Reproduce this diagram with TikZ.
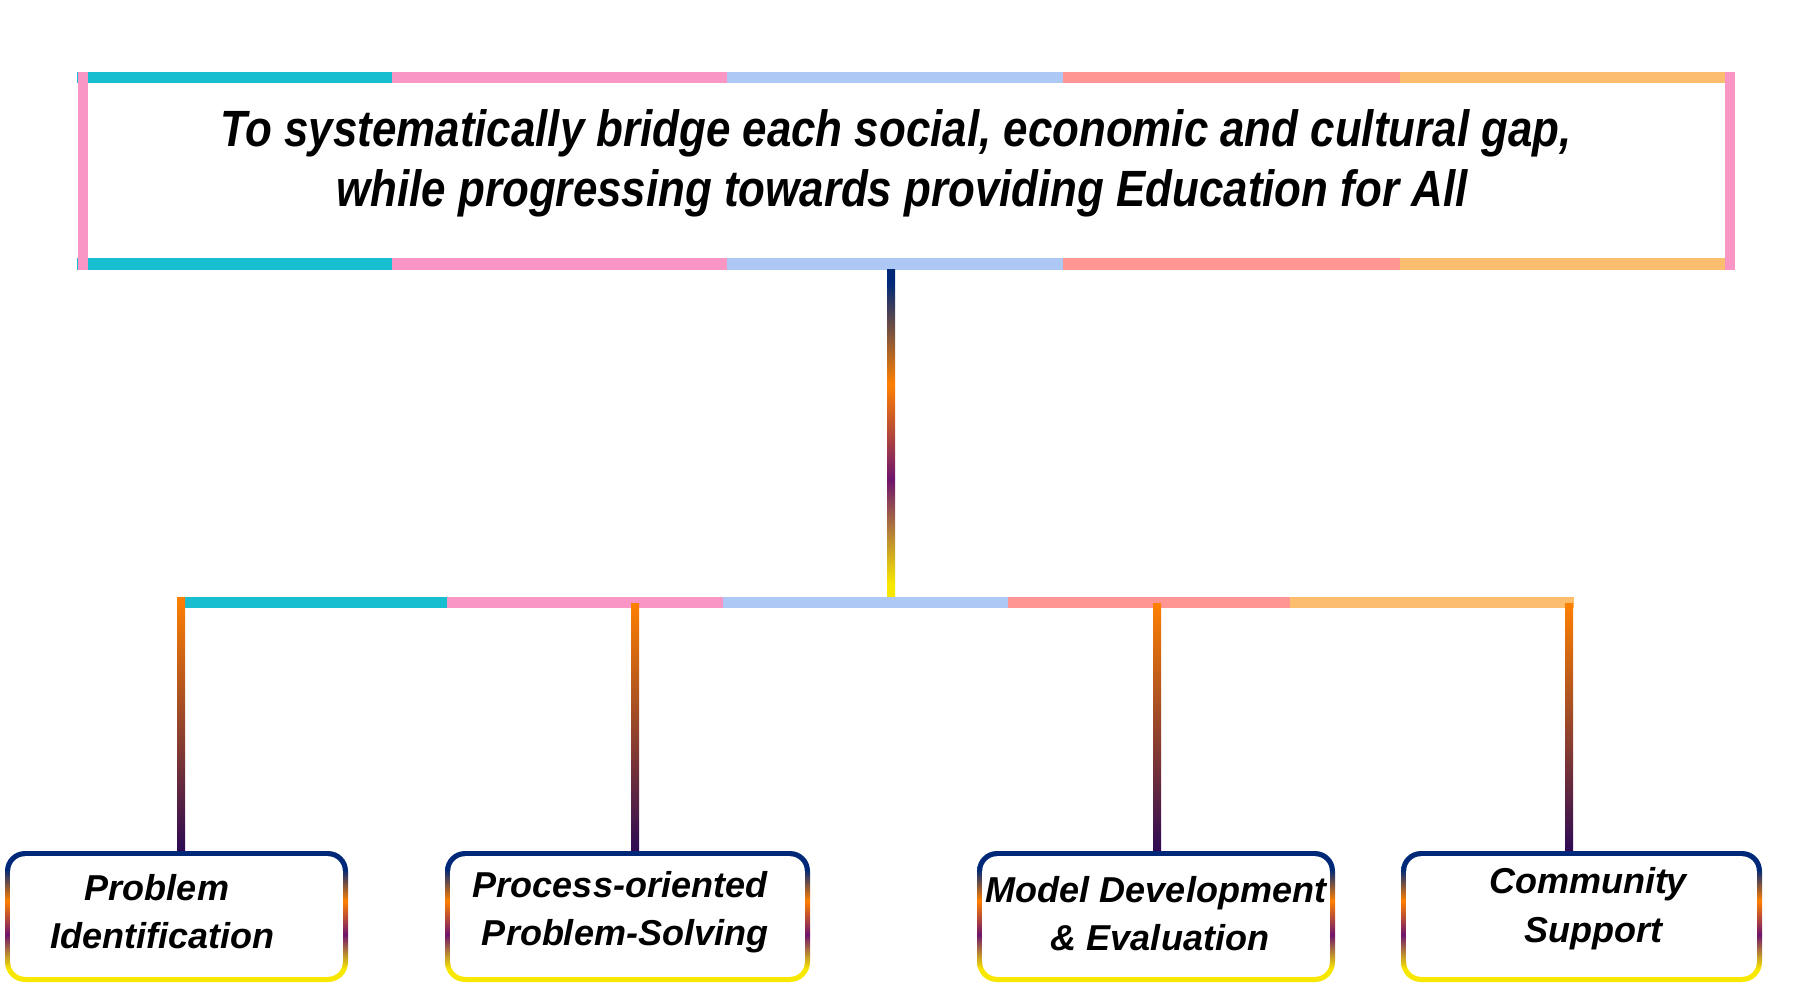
\documentclass[tikz,border=0pt]{standalone}
\usepackage{fontspec}
\setmainfont{Liberation Sans}
\newfontfamily\topfont[FakeStretch=0.86]{Liberation Sans}
\definecolor{scyan}{RGB}{23,190,207}
\definecolor{spink}{RGB}{250,150,198}
\definecolor{slav}{RGB}{173,200,245}
\definecolor{ssalm}{RGB}{255,150,148}
\definecolor{sora}{RGB}{253,189,110}
\definecolor{gnavy}{RGB}{0,40,120}
\definecolor{gora}{RGB}{255,128,0}
\definecolor{gpur}{RGB}{110,20,110}
\definecolor{gyel}{RGB}{248,232,0}
\definecolor{cdark}{RGB}{45,10,85}
\pgfdeclareverticalshading{maingrad}{100bp}{color(0bp)=(gyel); color(27bp)=(gyel); color(43bp)=(gpur); color(57.5bp)=(gora); color(73bp)=(gnavy); color(100bp)=(gnavy)}
\pgfdeclareverticalshading{boxgrad}{100bp}{color(0bp)=(gyel); color(30bp)=(gyel); color(43bp)=(gpur); color(56bp)=(gora); color(68bp)=(gnavy); color(100bp)=(gnavy)}
\begin{document}
\begin{tikzpicture}[x=1pt,y=-1pt,
  frame/.style={draw=none, inner sep=0pt, outer sep=0pt, minimum height=131pt},
  toptxt/.style={inner sep=0pt, anchor=base, font=\topfont\fontsize{51}{60}\selectfont\bfseries\itshape},
  txt/.style={inner sep=0pt, anchor=base, font=\fontsize{36}{43}\selectfont\bfseries\itshape},
  childline/.style={top color=gora, bottom color=cdark}]
\useasboundingbox[fill=white] (0,0) rectangle (1800,1000);

% top box
\node[draw=none, inner sep=0pt, outer sep=0pt, minimum width=1658pt, minimum height=198pt] (top) at (906,171) {};
% top bar segments
\fill[scyan]  (top.north west) rectangle ([shift={(315,11)}]top.north west);
\fill[spink]  ([shift={(315,0)}]top.north west) rectangle ([shift={(650,11)}]top.north west);
\fill[slav]   ([shift={(650,0)}]top.north west) rectangle ([shift={(986,11)}]top.north west);
\fill[ssalm]  ([shift={(986,0)}]top.north west) rectangle ([shift={(1323,11)}]top.north west);
\fill[sora]   ([shift={(1323,0)}]top.north west) rectangle ([shift={(1648,11)}]top.north west);
% bottom bar segments
\fill[scyan]  ([shift={(0,-12)}]top.south west) rectangle ([shift={(315,0)}]top.south west);
\fill[spink]  ([shift={(315,-12)}]top.south west) rectangle ([shift={(650,0)}]top.south west);
\fill[slav]   ([shift={(650,-12)}]top.south west) rectangle ([shift={(986,0)}]top.south west);
\fill[ssalm]  ([shift={(986,-12)}]top.south west) rectangle ([shift={(1323,0)}]top.south west);
\fill[sora]   ([shift={(1323,-12)}]top.south west) rectangle ([shift={(1648,0)}]top.south west);
% side bars
\fill[spink] ([shift={(1,0)}]top.north west) rectangle ([shift={(11,0)}]top.south west);
\fill[spink] ([shift={(-10,0)}]top.north east) rectangle (top.south east);

\node[toptxt] (tl1) at (896,147) {To systematically bridge each social, economic and cultural gap,};
\node[toptxt] (tl2) at (902,207) {while progressing towards providing Education for All};

% hub and bar
\coordinate (hub) at (891,597);
\coordinate (mtop) at (hub |- top.south);
\shade[shading=maingrad] ([shift={(-4,0)}]mtop) rectangle ([shift={(4,0)}]hub);

\coordinate (barL) at (185,597);
\coordinate (barJ) at (185,603);
\fill[scyan] (barL) rectangle ([shift={(262,11)}]barL);
\fill[spink] ([shift={(262,0)}]barL) rectangle ([shift={(538,11)}]barL);
\fill[slav]  ([shift={(538,0)}]barL) rectangle ([shift={(823,11)}]barL);
\fill[ssalm] ([shift={(823,0)}]barL) rectangle ([shift={(1105,11)}]barL);
\fill[sora]  ([shift={(1105,0)}]barL) rectangle ([shift={(1389,11)}]barL);

% child boxes
\node[frame, minimum width=343pt] (b1) at (176.5,916.5) {};
\node[frame, minimum width=365pt] (b2) at (627.5,916.5) {};
\node[frame, minimum width=358pt] (b3) at (1156,916.5) {};
\node[frame, minimum width=361pt] (b4) at (1581.5,916.5) {};

\coordinate (k1) at ([shift={(4.5,1)}]b1.north);
\coordinate (k2) at ([shift={(7.5,1)}]b2.north);
\coordinate (k3) at ([shift={(1,1)}]b3.north);
\coordinate (k4) at ([shift={(-12.5,1)}]b4.north);
\coordinate (j1) at (k1 |- barL);
\coordinate (j2) at (k2 |- barJ);
\coordinate (j3) at (k3 |- barJ);
\coordinate (j4) at (k4 |- barJ);
\foreach \i in {1,2,3,4}{
  \shade[childline] ([shift={(-4,0)}]j\i) rectangle ([shift={(4,0)}]k\i);
}
\foreach \i in {1,2,3,4}{
  \shade[shading=boxgrad, rounded corners=20pt] (b\i.north west) rectangle (b\i.south east);
  \fill[white, rounded corners=15pt] ([shift={(5.2,5.2)}]b\i.north west) rectangle ([shift={(-5.2,-5.2)}]b\i.south east);
}

\node[txt] (t1a) at (157,900) {Problem};
\node[txt] (t1b) at (162,948) {Identification};
\node[txt] (t2a) at (620,897) {Process-oriented};
\node[txt] (t2b) at (625,945) {Problem-Solving};
\node[txt] (t3a) at (1156,902) {Model Development};
\node[txt] (t3b) at (1160,950) {\& Evaluation};
\node[txt] (t4a) at (1588,893) {Community};
\node[txt] (t4b) at (1593,942) {Support};
\end{tikzpicture}
\end{document}
